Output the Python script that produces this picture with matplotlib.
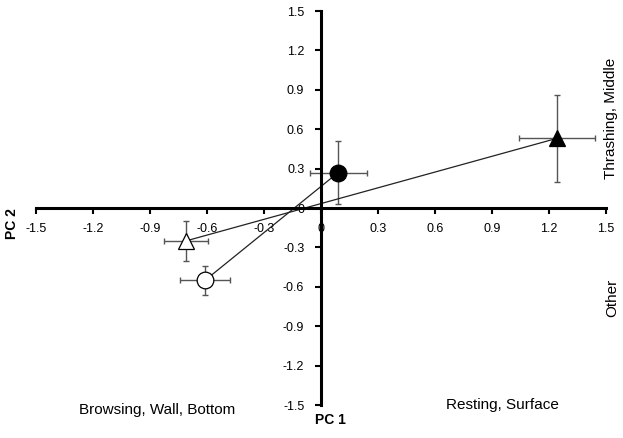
import numpy as np
import matplotlib.pyplot as plt

plt.rcParams['font.family'] = ['Liberation Sans', 'DejaVu Sans']

# group means on the two principal components
groups = ['filled circle', 'open circle', 'filled triangle', 'open triangle']
pc1 = [0.09, -0.61, 1.24, -0.71]
pc2 = [0.27, -0.55, 0.53, -0.25]
pc1_err = [0.15, 0.13, 0.20, 0.115]
pc2_err = [0.24, 0.11, 0.33, 0.15]
markers = ['o', 'o', '^', '^']
faces = ['black', 'white', 'black', 'white']

# pairs joined by a line
pairs = [(1, 0), (3, 2)]

ticks = [-1.5, -1.2, -0.9, -0.6, -0.3, 0, 0.3, 0.6, 0.9, 1.2, 1.5]
tick_labels = ['-1.5', '-1.2', '-0.9', '-0.6', '-0.3', '0', '0.3', '0.6', '0.9', '1.2', '1.5']

fig = plt.figure(figsize=(6.23, 4.38), dpi=100)
ax = fig.add_axes([0.0578, 0.0753, 0.915, 0.8995])

for a, b in pairs:
    ax.plot([pc1[a], pc1[b]], [pc2[a], pc2[b]], color='#222222', lw=0.9, zorder=2)

for i in range(len(groups)):
    ax.errorbar(pc1[i], pc2[i], xerr=pc1_err[i], yerr=pc2_err[i], fmt='none',
                ecolor='#555555', elinewidth=1.0, capsize=2.5, capthick=1.0, zorder=1)
    ms = 12 if markers[i] == 'o' else 11
    ax.plot(pc1[i], pc2[i], marker=markers[i], ms=ms, mfc=faces[i], mec='black',
            mew=0.9, ls='none', zorder=3)

ax.set_xlim(-1.5, 1.5)
ax.set_ylim(-1.5, 1.5)
ax.spines['left'].set_position(('data', 0))
ax.spines['bottom'].set_position(('data', 0))
ax.spines['left'].set_bounds(-1.5, 1.5)
ax.spines['bottom'].set_bounds(-1.5, 1.5)
ax.spines['right'].set_visible(False)
ax.spines['top'].set_visible(False)
for s in ['left', 'bottom']:
    ax.spines[s].set_linewidth(2.2)
ax.set_xticks(ticks)
ax.set_xticklabels(tick_labels)
ax.set_yticks(ticks)
ax.set_yticklabels(tick_labels)
ax.tick_params(axis='x', direction='out', length=4, width=1.5, pad=7, labelsize=9, colors='black')
ax.tick_params(axis='y', direction='out', length=4, width=1.5, pad=8, labelsize=9, colors='black')
ax.set_facecolor('none')

fig.text(0.020, 0.49, 'PC 2', rotation=90, ha='center', va='center', fontsize=10, fontweight='bold')
fig.text(0.530, 0.040, 'PC 1', ha='center', va='center', fontsize=10, fontweight='bold')
fig.text(0.253, 0.065, 'Browsing, Wall, Bottom', ha='center', va='center', fontsize=11)
fig.text(0.806, 0.075, 'Resting, Surface', ha='center', va='center', fontsize=11)
fig.text(0.980, 0.73, 'Thrashing, Middle', rotation=90, ha='center', va='center', fontsize=11)
fig.text(0.983, 0.32, 'Other', rotation=90, ha='center', va='center', fontsize=11)

fig.savefig('out.png', dpi=100)
